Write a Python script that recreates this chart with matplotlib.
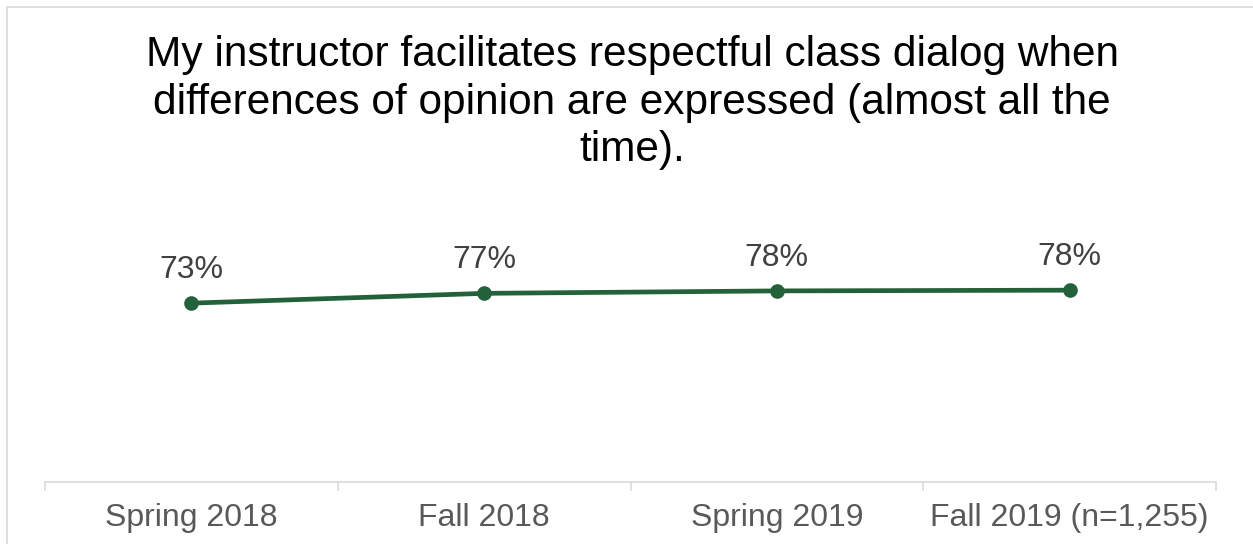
import matplotlib
matplotlib.use('Agg')
import matplotlib.pyplot as plt
from matplotlib.patches import Rectangle

plt.rcParams['font.family'] = ['Liberation Sans', 'DejaVu Sans']

# data
terms = ['Spring 2018', 'Fall 2018', 'Spring 2019', 'Fall 2019 (n=1,255)']
pct = [73, 77, 78, 78.3]
pct_labels = ['73%', '77%', '78%', '78%']
title = ('My instructor facilitates respectful class dialog when\n'
         'differences of opinion are expressed (almost all the\n'
         'time).')

W, H = 1253, 544
fig = plt.figure(figsize=(W / 100, H / 100), dpi=100)

# light frame around the chart area (runs off the right/bottom edge)
fig.patches.append(Rectangle((7 / W, -0.1), 1.2, 1 - 7 / H + 0.1, transform=fig.transFigure,
                             fill=False, edgecolor='#d9d9d9', linewidth=1.2))

ax = fig.add_axes([45 / W, (H - 482) / H, 1171 / W, 245 / H])
x = list(range(len(terms)))
ax.plot(x, pct, color='#23613a', linewidth=3.4, marker='o', markersize=9.5, zorder=3)
for xi, yi, lab in zip(x, pct, pct_labels):
    ax.annotate(lab, (xi, yi), xytext=(0, 13), textcoords='offset points',
                ha='center', va='bottom', fontsize=23, color='#404040')

ax.set_xlim(-0.5, len(terms) - 0.5)
ax.set_ylim(0, 100)
ax.set_yticks([])
ax.set_xticks(x)
ax.set_xticklabels(terms, fontsize=23, color='#595959')
ax.set_xticks([i - 0.5 for i in range(len(terms) + 1)], minor=True)
ax.tick_params(axis='x', which='major', length=0, pad=15)
ax.tick_params(axis='x', which='minor', length=6.5, color='#d9d9d9', width=1.2)
for s in ['top', 'left', 'right']:
    ax.spines[s].set_visible(False)
ax.spines['bottom'].set_color('#d9d9d9')
ax.spines['bottom'].set_linewidth(1.2)
ax.patch.set_alpha(0)

fig.text(632 / W, 1 - 35 / H, title, ha='center', va='top', fontsize=30.5,
         color='black', linespacing=1.25)

fig.savefig('out.png', dpi=100)
